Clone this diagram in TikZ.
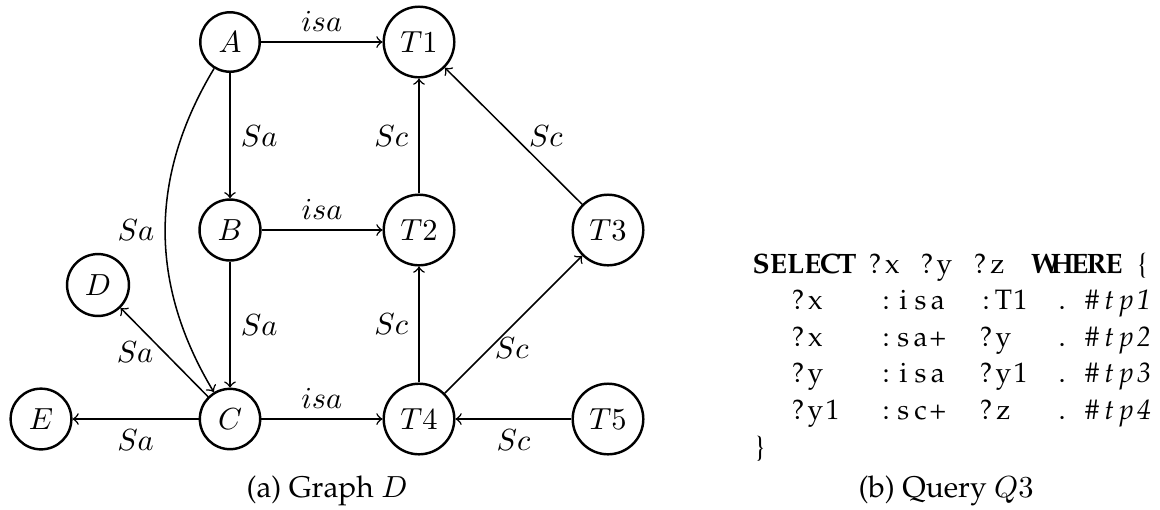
\documentclass[tikz,border=0pt]{standalone}
\usepackage[T1,TU]{fontenc}
\newcommand\palfont{\fontencoding{T1}\fontfamily{ppl}\selectfont}
\newcommand\qfont{\palfont\fontsize{9.2}{11}\selectfont}
\newcommand\capfont{\palfont\fontsize{9.8}{12}\selectfont}
\newcommand\cb[1]{\makebox[5.64pt][c]{#1}}
\begin{document}
\begin{tikzpicture}[x=0.3279pt,y=0.3279pt,
  nd/.style={circle,draw,line width=0.8pt},
  ed/.style={->,line width=0.5pt},
  qtext/.style={anchor=base west,inner sep=0pt,font=\qfont},
  captext/.style={anchor=base,inner sep=0pt,font=\capfont}]
\useasboundingbox (0,0) rectangle (1160,-509);
% nodes
\node[nd] (A)  at (230,-42)  {$A$};
\node[nd] (T1) at (419,-42)  {$T1$};
\node[nd] (B)  at (230,-230) {$B$};
\node[nd] (T2) at (419,-230) {$T2$};
\node[nd] (T3) at (608,-230) {$T3$};
\node[nd] (D)  at (98,-285)  {$D$};
\node[nd] (E)  at (41,-419)  {$E$};
\node[nd] (C)  at (230,-419) {$C$};
\node[nd] (T4) at (419,-419) {$T4$};
\node[nd] (T5) at (608,-419) {$T5$};
% edges
\draw[ed] (A) -- node[above]{$isa$} (T1);
\draw[ed] (A) -- node[right]{$Sa$} (B);
\draw[ed] (T2) -- node[left]{$Sc$} (T1);
\draw[ed] (B) -- node[above]{$isa$} (T2);
\draw[ed] (T3) -- node[anchor=west,xshift=1.5pt]{$Sc$} (T1);
\draw[ed] (A) to[bend right=31] node[left]{$Sa$} (C);
\draw[ed] (B) -- node[right]{$Sa$} (C);
\draw[ed] (C) -- node[left]{$Sa$} (D);
\draw[ed] (C) -- node[below]{$Sa$} (E);
\draw[ed] (C) -- node[above]{$isa$} (T4);
\draw[ed] (T4) -- node[left]{$Sc$} (T2);
\draw[ed] (T4) -- node[pos=0.33,anchor=west,xshift=-2pt]{$Sc$} (T3);
\draw[ed] (T5) -- node[below]{$Sc$} (T4);
% captions
\node[captext] (capa) at (327,-497) {(a) Graph $D$};
\node[captext] (capb) at (946,-497) {(b) Query $Q3$};
% query
\node[qtext] (h1) at (752,-273) {\bfseries\cb{S}\cb{E}\cb{L}\cb{E}\cb{C}\cb{T}};
\node[qtext] (h2) at (866,-273) {\cb{?}\cb{x}};
\node[qtext] (h3) at (918,-273) {\cb{?}\cb{y}};
\node[qtext] (h4) at (971,-273) {\cb{?}\cb{z}};
\node[qtext] (h5) at (1036,-273) {\bfseries\cb{W}\cb{H}\cb{E}\cb{R}\cb{E}};
\node[qtext] (h6) at (1137,-273) {\{};
% row 1
\node[qtext] (r1a) at (789,-309.6) {\cb{?}\cb{x}};
\node[qtext] (r1b) at (877,-309.6) {\cb{:}\cb{i}\cb{s}\cb{a}};
\node[qtext] (r1c) at (977,-309.6) {\cb{:}\cb{T}\cb{1}};
\node[qtext] (r1d) at (1053,-309.6) {\cb{.}};
\node[qtext] (r1e) at (1083,-309.6) {\itshape\cb{\#}\cb{t}\cb{p}\cb{1}};
% row 2
\node[qtext] (r2a) at (789,-346.2) {\cb{?}\cb{x}};
\node[qtext] (r2b) at (877,-346.2) {\cb{:}\cb{s}\cb{a}\cb{+}};
\node[qtext] (r2c) at (977,-346.2) {\cb{?}\cb{y}};
\node[qtext] (r2d) at (1053,-346.2) {\cb{.}};
\node[qtext] (r2e) at (1083,-346.2) {\itshape\cb{\#}\cb{t}\cb{p}\cb{2}};
% row 3
\node[qtext] (r3a) at (789,-382.8) {\cb{?}\cb{y}};
\node[qtext] (r3b) at (877,-382.8) {\cb{:}\cb{i}\cb{s}\cb{a}};
\node[qtext] (r3c) at (977,-382.8) {\cb{?}\cb{y}\cb{1}};
\node[qtext] (r3d) at (1053,-382.8) {\cb{.}};
\node[qtext] (r3e) at (1083,-382.8) {\itshape\cb{\#}\cb{t}\cb{p}\cb{3}};
% row 4
\node[qtext] (r4a) at (789,-419.4) {\cb{?}\cb{y}\cb{1}};
\node[qtext] (r4b) at (877,-419.4) {\cb{:}\cb{s}\cb{c}\cb{+}};
\node[qtext] (r4c) at (977,-419.4) {\cb{?}\cb{z}};
\node[qtext] (r4d) at (1053,-419.4) {\cb{.}};
\node[qtext] (r4e) at (1083,-419.4) {\itshape\cb{\#}\cb{t}\cb{p}\cb{4}};
\node[qtext] (cl) at (755,-456) {\}};
\end{tikzpicture}
\end{document}
